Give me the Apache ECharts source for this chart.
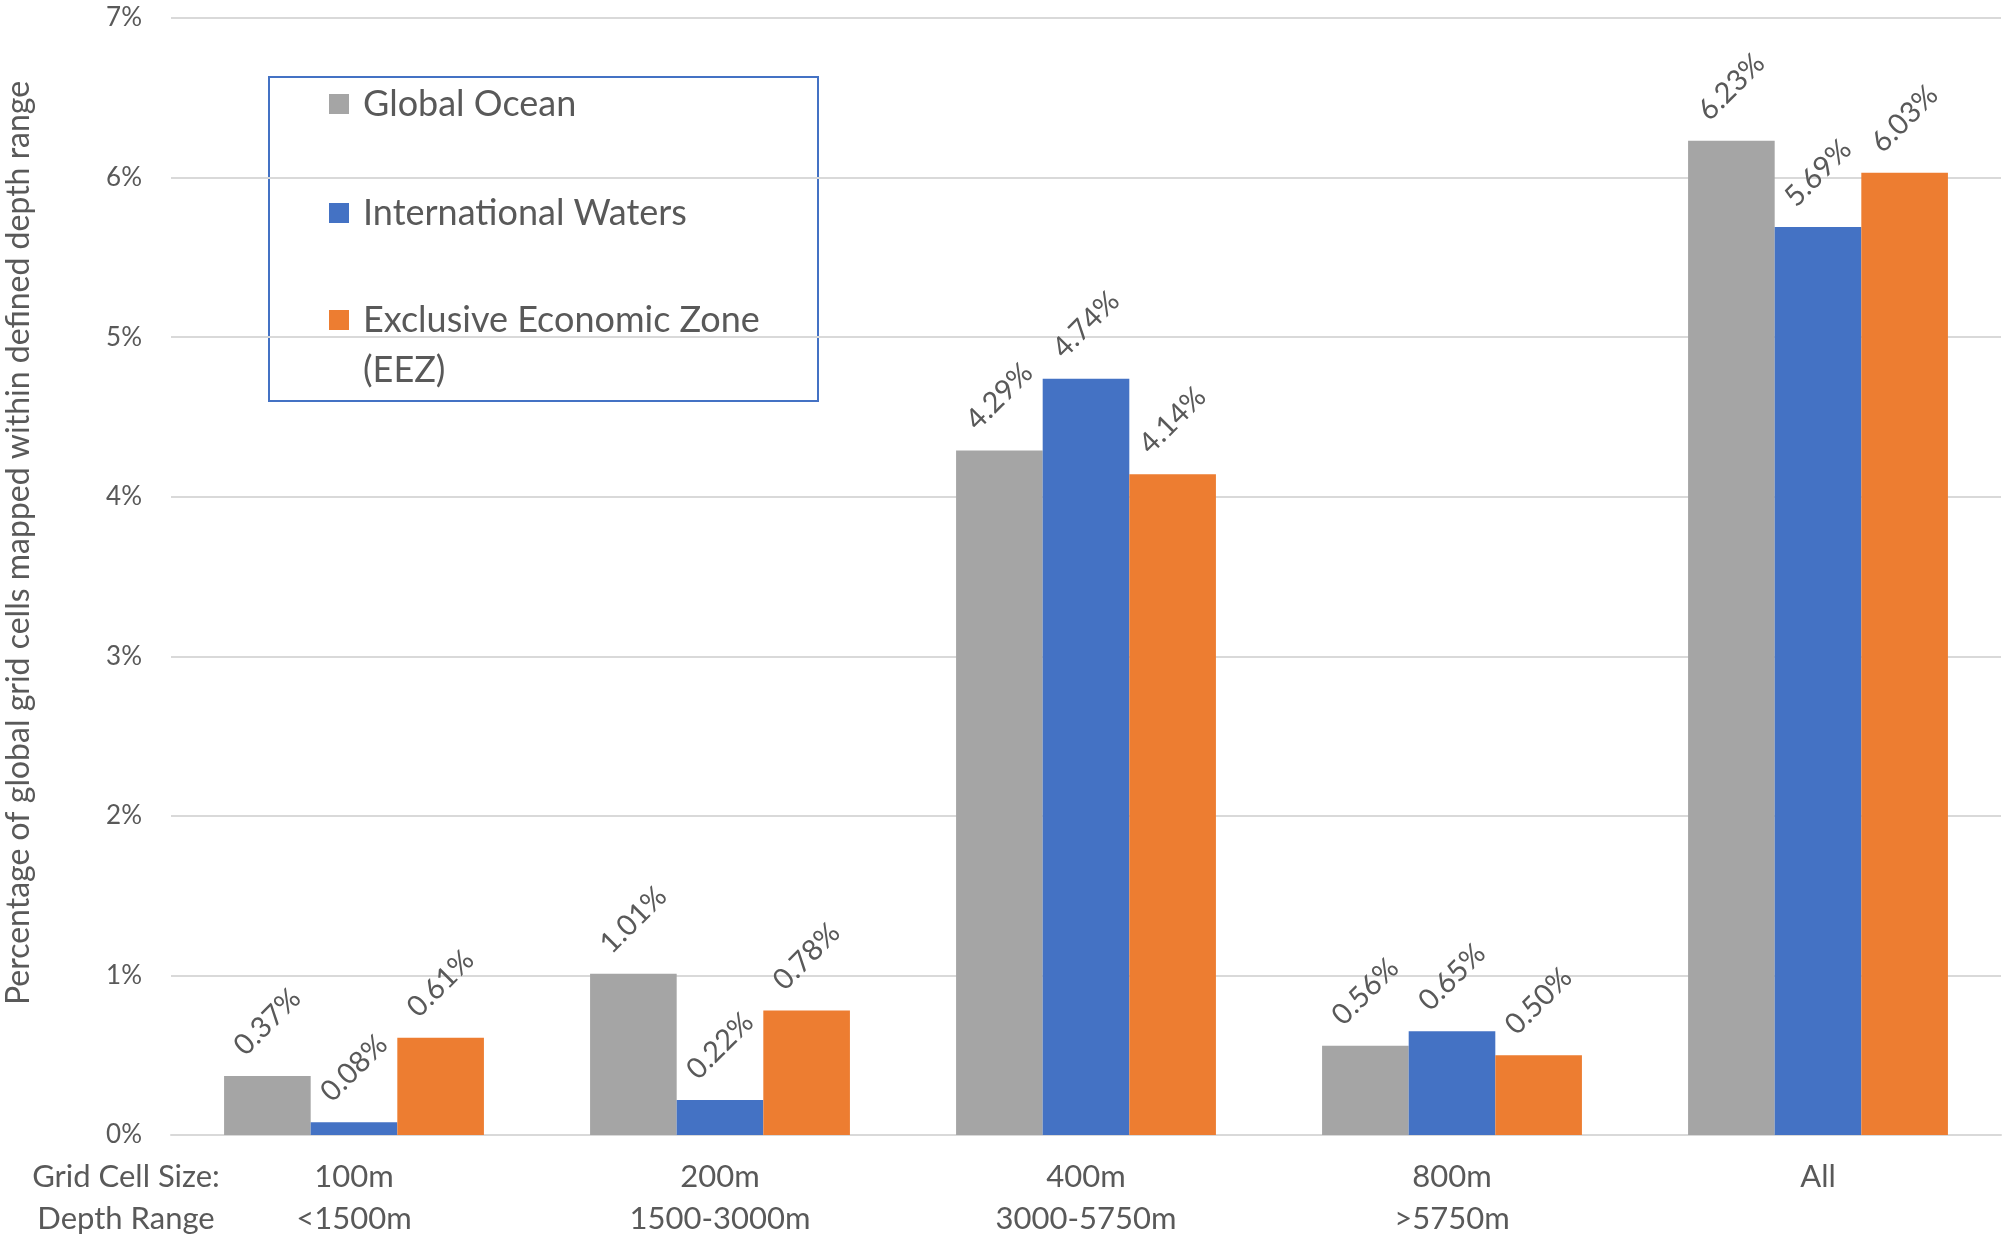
<!DOCTYPE html>
<html>
<head>
<meta charset="utf-8">
<script src="https://cdn.jsdelivr.net/npm/echarts@6/dist/echarts.min.js"></script>
<style>
html,body{margin:0;padding:0;background:#fff;}
#chart{width:2010px;height:1242px;}
</style>
</head>
<body>
<div id="chart"></div>
<script>
var gridSizes = ['100m', '200m', '400m', '800m', 'All'];
var depthRanges = ['<1500m', '1500-3000m', '3000-5750m', '>5750m', ''];
var seriesNames = ['Global Ocean', 'International Waters', 'Exclusive Economic Zone (EEZ)'];
var globalOcean = [0.37, 1.01, 4.29, 0.56, 6.23];
var internationalWaters = [0.08, 0.22, 4.74, 0.65, 5.69];
var eez = [0.61, 0.78, 4.14, 0.50, 6.03];
var yTicks = [0, 1, 2, 3, 4, 5, 6, 7];
var yTitle = 'Percentage of global grid cells mapped within defined depth range';
var rowTitles = ['Grid Cell Size:', 'Depth Range'];

var FONT = 'Lato, "Open Sans", sans-serif';
var TXT = '#595959';
var colors = ['#A5A5A5', '#4472C4', '#ED7D31'];

var categories = gridSizes.map(function (g, i) { return g + '\n' + depthRanges[i]; });

function barSeries(name, data, color) {
  return {
    name: name,
    type: 'bar',
    data: data,
    barGap: '0%',
    barCategoryGap: '29%',
    itemStyle: { color: color },
    label: {
      show: true,
      position: 'top',
      distance: 54,
      rotate: 45,
      align: 'center',
      verticalAlign: 'middle',
      fontFamily: FONT,
      fontSize: 29,
      color: TXT,
      formatter: function (p) { return p.value.toFixed(2) + '%'; }
    }
  };
}

var legendText = { fontFamily: FONT, fontSize: 36, color: TXT, lineHeight: 44, padding: [0, 0, 0, 9] };

var chart = echarts.init(document.getElementById('chart'), null, { renderer: 'canvas' });
chart.setOption({
  animation: false,
  backgroundColor: '#ffffff',
  color: colors,
  grid: { left: 171, right: 9, top: 18, bottom: 107, containLabel: false },
  legend: [
    {
      data: [seriesNames[0]], orient: 'vertical', left: 329, top: 82, padding: 0,
      itemWidth: 20, itemHeight: 20, selectedMode: false, icon: 'rect',
      textStyle: legendText
    },
    {
      data: [seriesNames[1]], orient: 'vertical', left: 329, top: 191, padding: 0,
      itemWidth: 20, itemHeight: 20, selectedMode: false, icon: 'rect',
      textStyle: legendText
    },
    {
      data: [seriesNames[2]], orient: 'vertical', left: 329, top: 245, padding: 0,
      itemWidth: 20, itemHeight: 20, selectedMode: false, icon: 'rect',
      formatter: function () { return '\nExclusive Economic Zone\n(EEZ)'; },
      textStyle: { fontFamily: FONT, fontSize: 36, color: TXT, lineHeight: 50, padding: [0, 0, 0, 9] }
    }
  ],
  xAxis: {
    type: 'category',
    data: categories,
    axisTick: { show: false },
    axisLine: { lineStyle: { color: '#D9D9D9', width: 2 } },
    axisLabel: { fontFamily: FONT, fontSize: 31, color: TXT, lineHeight: 42, margin: 21, interval: 0 }
  },
  yAxis: {
    type: 'value',
    min: 0, max: 7, interval: 1,
    axisLine: { show: false },
    axisTick: { show: false },
    splitLine: { lineStyle: { color: '#D9D9D9', width: 2 } },
    axisLabel: {
      fontFamily: FONT, fontSize: 26, color: TXT, margin: 29,
      formatter: function (v) { return yTicks.indexOf(v) >= 0 ? v + '%' : ''; }
    }
  },
  graphic: [
    {
      type: 'rect', left: 268, top: 76, z: 0,
      shape: { width: 549, height: 324 },
      style: { fill: '#ffffff', stroke: '#4472C4', lineWidth: 2 }
    },
    {
      type: 'text', x: 19, y: 543, rotation: Math.PI / 2,
      style: { text: yTitle, fontFamily: FONT, fontSize: 32, fill: TXT, align: 'center', verticalAlign: 'middle' }
    },
    {
      type: 'text', x: 126, y: 1156,
      style: { text: rowTitles.join('\n'), fontFamily: FONT, fontSize: 31, lineHeight: 42, fill: TXT, align: 'center', verticalAlign: 'top' }
    }
  ],
  series: [
    barSeries(seriesNames[0], globalOcean, colors[0]),
    barSeries(seriesNames[1], internationalWaters, colors[1]),
    barSeries(seriesNames[2], eez, colors[2])
  ]
});
</script>
</body>
</html>
